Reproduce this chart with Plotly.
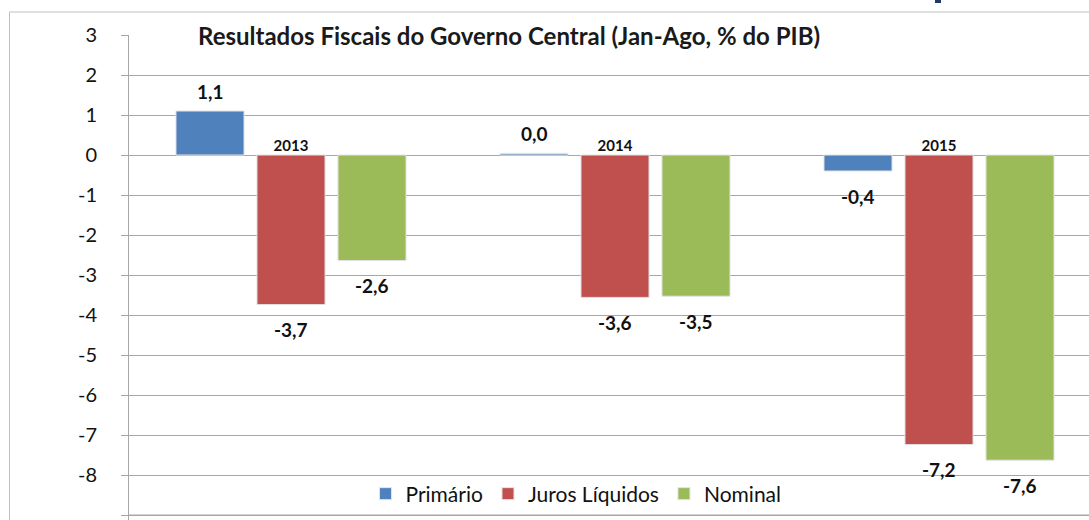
import plotly.graph_objects as go

# ---- data ----
categories = ["2013", "2014", "2015"]
primario = [1.10, 0.04, -0.40]
juros = [-3.74, -3.56, -7.24]
nominal = [-2.64, -3.53, -7.63]
series_names = ["Primário", "Juros Líquidos", "Nominal"]
series_colors = ["#4F81BD", "#C0504D", "#9BBB59"]
title_text = "Resultados Fiscais do Governo Central (Jan-Ago, % do PIB)"
y_ticks = list(range(-9, 4))
y_tick_labels = [str(t) for t in y_ticks]

FONT = "Lato"
series = [primario, juros, nominal]

BARGAP = 0.25
BARGROUPGAP = 0.16
slot = (1 - BARGAP) / len(series)

fig = go.Figure()
for name, vals, col in zip(series_names, series, series_colors):
    fig.add_trace(go.Bar(
        x=categories, y=vals, name=name,
        marker=dict(color=col, line=dict(color="#E3E3E3", width=1)),
        hoverinfo="skip",
    ))

# data labels
for k, vals in enumerate(series):
    for i, v in enumerate(vals):
        fig.add_annotation(
            x=i + (k - (len(series) - 1) / 2) * slot, y=v,
            xref="x", yref="y",
            text=f"{v:.1f}".replace(".", ","),
            showarrow=False,
            yshift=20 if v >= 0 else -25,
            font=dict(family=FONT, size=19, color="#111111", weight="bold"),
        )

# y range / plot geometry (plot area 35..520 px, 40 px per unit)
y_min, y_max = min(y_ticks), max(y_ticks)
y_lo = y_min - 0.125
zero_pos = (0 - y_lo) / (y_max - y_lo)
PH = 485.0

# title over top gridline
fig.add_annotation(
    x=(509 - 129) / 960, y=1.0, xref="paper", yref="paper",
    text=title_text, showarrow=False, xanchor="center", yanchor="middle",
    bgcolor="white", borderpad=4,
    font=dict(family=FONT, size=24, color="#1a1a1a", weight="bold"),
)

# bottom gridline (kept visible at plot edge)
fig.add_shape(type="line", xref="paper", yref="y",
              x0=0, x1=1, y0=y_min, y1=y_min,
              line=dict(color="#A6A6A6", width=1))

# outer chart border
fig.add_shape(type="rect", xref="paper", yref="paper",
              x0=(9.5 - 129) / 960, x1=1.2, y0=-0.2, y1=(520 - 12) / PH,
              line=dict(color="#BFBFBF", width=1), layer="below")
# small dark mark at top edge (cut-off element)
fig.add_shape(type="rect", xref="paper", yref="paper",
              x0=(935 - 129) / 960, x1=(941 - 129) / 960,
              y0=(520 - 3) / PH, y1=(520 + 5) / PH,
              line=dict(width=0), fillcolor="#1F3864")

fig.update_layout(
    width=1089, height=520,
    margin=dict(l=129, r=0, t=35, b=0, autoexpand=False),
    paper_bgcolor="white", plot_bgcolor="white",
    barmode="group", bargap=BARGAP, bargroupgap=BARGROUPGAP,
    separators=",.",
    font=dict(family=FONT, color="#111111"),
    showlegend=True,
    legend=dict(
        orientation="h", x=(576 - 129) / 960, y=(520 - 494) / PH,
        xanchor="center", yanchor="middle",
        bgcolor="rgba(0,0,0,0)",
        font=dict(family=FONT, size=21, color="#111111"),
        itemwidth=30, tracegroupgap=0,
    ),
    xaxis=dict(
        range=[-0.5, 2.5 - 12 / 324],
        side="top", anchor="free", position=zero_pos,
        showline=False, showgrid=False, ticks="",
        tickfont=dict(family=FONT, size=15, color="#111111", weight="bold"),
        ticklabelstandoff=1,
        automargin=False,
        fixedrange=True,
    ),
    yaxis=dict(
        range=[y_lo, y_max], tickvals=y_ticks, ticktext=y_tick_labels,
        showgrid=True, gridcolor="#A6A6A6", gridwidth=1,
        zeroline=True, zerolinecolor="#A6A6A6", zerolinewidth=1,
        showline=True, linecolor="#A6A6A6", linewidth=1,
        ticks="outside", ticklen=7, tickcolor="#A6A6A6",
        ticklabelstandoff=20,
        tickfont=dict(family=FONT, size=20, color="#111111"),
        automargin=False,
        fixedrange=True,
    ),
)

fig.write_html(
    "out.html",
    config={"displayModeBar": False},
    post_script="document.body.style.margin='0';document.body.style.overflow='hidden';",
)
